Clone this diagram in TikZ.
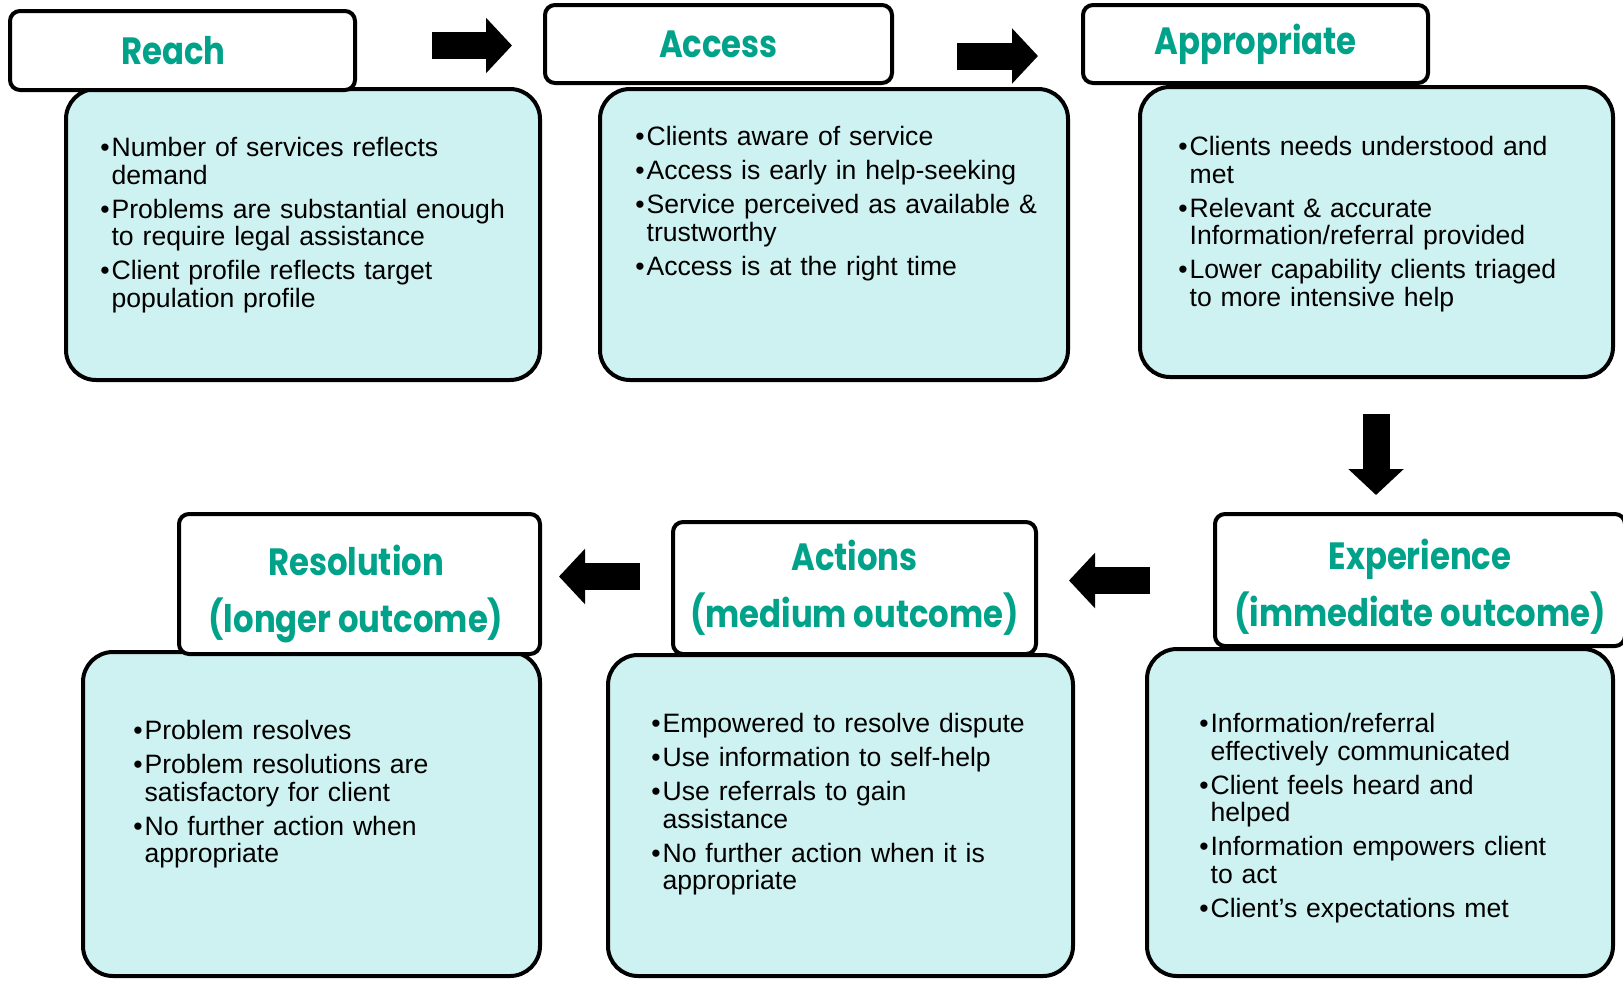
\documentclass[tikz,border=0pt]{standalone}
\usepackage{fontspec}
\setmainfont{Liberation Sans}
\newfontfamily\titlefont{Poppins}[FakeStretch=0.85]
\usetikzlibrary{arrows.meta}
\definecolor{headgreen}{RGB}{0,163,137}
\definecolor{boxcyan}{RGB}{206,242,241}
\newcommand{\nl}{\hfil\break}
\newcommand{\bitem}[1]{\par\hangindent=5.6pt\hangafter=1\noindent\makebox[5.6pt][l]{\textbullet}#1}
\begin{document}
\begin{tikzpicture}[x=0.5pt,y=-0.5pt,
  titlebox/.style={draw,line width=2pt,rounded corners=5pt,fill=white,align=center,
    text=headgreen,font=\titlefont\bfseries\fontsize{19}{28.5}\selectfont},
  titletext/.style={align=center,inner sep=0pt,text=headgreen,
    font=\titlefont\bfseries\fontsize{19}{28.5}\selectfont},
  bodybox/.style={draw,line width=2pt,rounded corners=15pt,fill=boxcyan},
  items/.style={anchor=north west,inner sep=0pt,text width=240pt,align=left,
    font=\fontsize{13.3}{13.8}\selectfont,execute at begin node={\setlength{\parskip}{3.2pt}}},
  blockarrow/.style={line width=13.5pt,-{Triangle[length=13pt,width=27pt]}}]
\useasboundingbox (0,0) rectangle (1623,981);
% top row
\node[bodybox,minimum width=237pt,minimum height=145.5pt] (reachbody) at (303,234.5) {};
\node[bodybox,minimum width=234pt,minimum height=145.5pt] (accessbody) at (834,234.5) {};
\node[bodybox,minimum width=236.5pt,minimum height=145pt] (approbody) at (1376.5,232) {};
\node[titlebox,minimum width=172.5pt,minimum height=39.5pt] (reach) at (182.5,50.5) {\hspace*{-9pt}Reach};
\node[titlebox,minimum width=173.5pt,minimum height=39pt] (access) at (718.5,44) {Access};
\node[titlebox,minimum width=172.5pt,minimum height=39pt] (appro) at (1255.5,44) {Appropriate};
\node[items] (reachtext) at ([shift={(36,35)}]reachbody.north west) {%
  \bitem{Number of services reflects\nl demand}
  \bitem{Problems are substantial enough\nl to require legal assistance}
  \bitem{Client profile reflects target\nl population profile}\par};
\node[items] (accesstext) at ([shift={(37,24)}]accessbody.north west) {%
  \bitem{Clients aware of service}
  \bitem{Access is early in help-seeking}
  \bitem{Service perceived as available \&\nl trustworthy}
  \bitem{Access is at the right time}\par};
\node[items] (approtext) at ([shift={(40,36)}]approbody.north west) {%
  \bitem{Clients needs understood and\nl met}
  \bitem{Relevant \& accurate\nl Information/referral provided}
  \bitem{Lower capability clients triaged\nl to more intensive help}\par};
% bottom row
\node[bodybox,minimum width=233pt,minimum height=163.5pt] (expbody) at (1380,812.5) {};
\node[bodybox,minimum width=232.5pt,minimum height=160.5pt] (actbody) at (840.5,815.5) {};
\node[bodybox,minimum width=228.5pt,minimum height=162pt] (resbody) at (311.5,814) {};
\node[titlebox,minimum width=205pt,minimum height=66pt] (exp) at (1420,580) {};
\node[titlebox,minimum width=181.5pt,minimum height=66pt] (act) at (854.5,588) {};
\node[titlebox,minimum width=180.5pt,minimum height=70pt] (res) at (359.5,584) {};
\node[titletext] (exptitle) at (1420,586.5) {Experience\\(immediate outcome)};
\node[titletext] (acttitle) at (854.5,588) {Actions\\(medium outcome)};
\node[titletext] (restitle) at (356,593.5) {Resolution\\(longer outcome)};
\node[items] (exptext) at ([shift={(54,51)}]expbody.north west) {%
  \bitem{Information/referral\nl effectively communicated}
  \bitem{Client feels heard and\nl helped}
  \bitem{Information empowers client\nl to act}
  \bitem{Client’s expectations met}\par};
\node[items] (acttext) at ([shift={(45,45)}]actbody.north west) {%
  \bitem{Empowered to resolve dispute}
  \bitem{Use information to self-help}
  \bitem{Use referrals to gain\nl assistance}
  \bitem{No further action when it is\nl appropriate}\par};
\node[items] (restext) at ([shift={(52,55)}]resbody.north west) {%
  \bitem{Problem resolves}
  \bitem{Problem resolutions are\nl satisfactory for client}
  \bitem{No further action when\nl appropriate}\par};
% block arrows
\coordinate (a1s) at (432,45.5);  \coordinate (a1e) at (512,45.5);
\coordinate (a2s) at (957,56);    \coordinate (a2e) at (1038,56);
\coordinate (a3s) at (1376,414);  \coordinate (a3e) at (1376,495);
\coordinate (a4s) at (1150,580.5);\coordinate (a4e) at (1069,580.5);
\coordinate (a5s) at (640,576.5); \coordinate (a5e) at (559,576.5);
\foreach \i in {1,...,5}
  \draw[blockarrow] (a\i s) -- (a\i e);
\end{tikzpicture}
\end{document}
